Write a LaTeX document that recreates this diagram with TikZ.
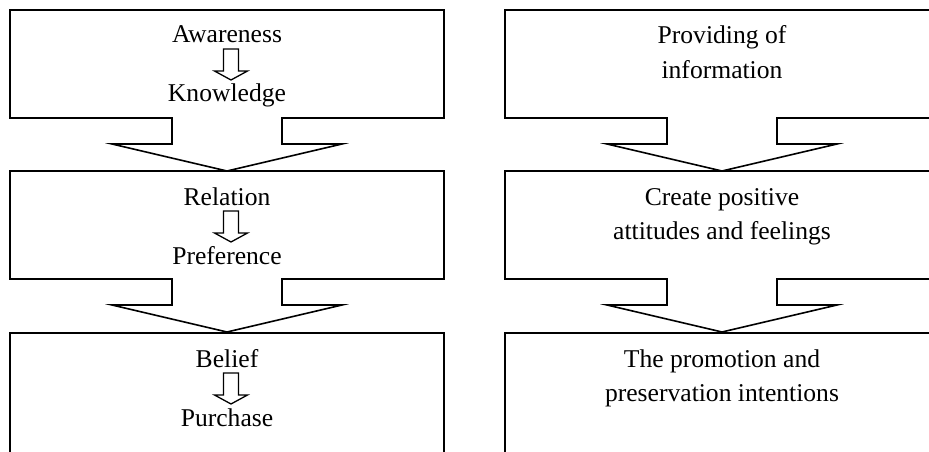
\documentclass[tikz,border=0pt]{standalone}
\usepackage{fontspec}
\setmainfont{Liberation Serif}
\usetikzlibrary{calc}
% #1 centre x, #2 top y, #3 bottom y of the rectangle part
\newcommand\flowbox[3]{%
  \draw[boxline] (#1-217,#2) -- (#1+217,#2) -- (#1+217,#3) -- (#1+55,#3)
    -- (#1+55,#3+26) -- (#1+115,#3+26) -- (#1,#3+53) -- (#1-115,#3+26)
    -- (#1-55,#3+26) -- (#1-55,#3) -- (#1-217,#3) -- cycle;}
% hollow down arrow starting at named coordinate #1
\newcommand\hollowarrow[1]{%
  \draw[smallarrow] ($(#1)+(-7.5,0)$) -- ($(#1)+(7.5,0)$) -- ($(#1)+(7.5,22)$)
    -- ($(#1)+(16.5,22)$) -- ($(#1)+(0,31)$) -- ($(#1)+(-16.5,22)$)
    -- ($(#1)+(-7.5,22)$) -- cycle;}
\begin{document}
\begin{tikzpicture}[x=1pt,y=-1pt,
  boxline/.style={draw=black, line width=1.6pt, line join=miter},
  smallarrow/.style={draw=black, line width=1.3pt, line join=miter},
  txt/.style={font=\fontsize{25.6}{30}\selectfont, anchor=base, inner sep=0pt}]
\clip (0,0) rectangle (929,452);
\fill[white] (0,0) rectangle (929,452);

% left column
\flowbox{227}{10}{118}
\flowbox{227}{171}{279}
\draw[boxline] (10,470) -- (10,333) -- (444,333) -- (444,470);

\node[txt] (aw) at (227,43) {Awareness};
\node[txt] (kn) at (227,102) {Knowledge};
\coordinate (ar1) at (231,49);
\hollowarrow{ar1}

\node[txt] (re) at (227,205) {Relation};
\node[txt] (pr) at (227,264) {Preference};
\coordinate (ar2) at (231,211);
\hollowarrow{ar2}

\node[txt] (be) at (227,367) {Belief};
\node[txt] (pu) at (227,426) {Purchase};
\coordinate (ar3) at (231,373);
\hollowarrow{ar3}

% right column
\flowbox{722}{10}{118}
\flowbox{722}{171}{279}
\draw[boxline] (505,470) -- (505,333) -- (939,333) -- (939,470);

\node[txt] (pi1) at (722,44) {Providing of};
\node[txt] (pi2) at (722,78) {information};
\node[txt] (cp1) at (722,205) {Create positive};
\node[txt] (cp2) at (722,239) {attitudes and feelings};
\node[txt] (tp1) at (722,367) {The promotion and};
\node[txt] (tp2) at (722,401) {preservation intentions};
\end{tikzpicture}
\end{document}
